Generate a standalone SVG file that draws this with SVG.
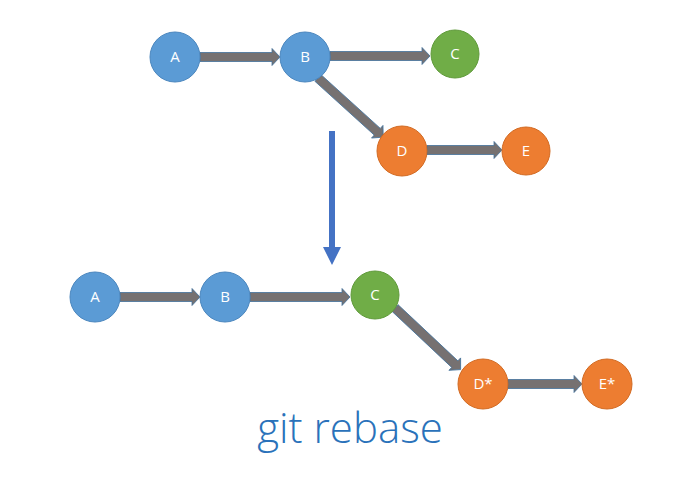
<svg xmlns="http://www.w3.org/2000/svg" width="678" height="488" viewBox="0 0 678 488">
  <style>
    .blue { fill: #5B9BD5; stroke: #4A86BE; stroke-width: 1; }
    .green { fill: #70AD47; stroke: #5F9A3A; stroke-width: 1; }
    .orange { fill: #ED7D31; stroke: #D26A22; stroke-width: 1; }
    .lbl { font-family: "Open Sans", "Noto Sans", "Liberation Sans", sans-serif; font-size: 15px; fill: #FFFFFF; text-anchor: middle; }
    .link { fill: #767171; stroke: #41719C; stroke-width: 0.8; }
    .title { font-family: "Open Sans", "Noto Sans", "Liberation Sans", sans-serif; font-weight: 300; font-size: 42px; fill: #2A72BA; text-anchor: middle; }
  </style>

  <g id="connectors">
    <!-- top history -->
    <g transform="translate(200,57)"><polygon class="link" points="0,-4.5 72,-4.5 72,-8.5 80,0 72,8.5 72,4.5 0,4.5"/></g>
    <g transform="translate(330,56)"><polygon class="link" points="0,-4.5 92,-4.5 92,-8.5 100,0 92,8.5 92,4.5 0,4.5"/></g>
    <g transform="translate(318,78) rotate(42.2)"><polygon class="link" points="0,-4.5 80,-4.5 80,-8.5 88,0 80,8.5 80,4.5 0,4.5"/></g>
    <g transform="translate(427,150)"><polygon class="link" points="0,-4.5 67,-4.5 67,-8.5 75,0 67,8.5 67,4.5 0,4.5"/></g>
    <!-- rebased history -->
    <g transform="translate(120,297)"><polygon class="link" points="0,-4.5 72,-4.5 72,-8.5 80,0 72,8.5 72,4.5 0,4.5"/></g>
    <g transform="translate(250,297)"><polygon class="link" points="0,-4.5 92,-4.5 92,-8.5 100,0 92,8.5 92,4.5 0,4.5"/></g>
    <g transform="translate(395,308) rotate(43.2)"><polygon class="link" points="0,-4.5 82,-4.5 82,-8.5 90,0 82,8.5 82,4.5 0,4.5"/></g>
    <g transform="translate(508,384)"><polygon class="link" points="0,-4.5 66,-4.5 66,-8.5 74,0 66,8.5 66,4.5 0,4.5"/></g>
    <!-- transition arrow -->
    <polygon points="329,131 335,131 335,247 341,247 332,265 323,247 329,247" fill="#4472C4"/>
  </g>

  <g id="top-A"><circle class="blue" cx="175" cy="57" r="25"/><text class="lbl" x="175" y="62">A</text></g>
  <g id="top-B"><circle class="blue" cx="305" cy="57" r="25"/><text class="lbl" x="305" y="62">B</text></g>
  <g id="top-C"><circle class="green" cx="455" cy="54" r="24"/><text class="lbl" x="455" y="59">C</text></g>
  <g id="top-D"><circle class="orange" cx="402" cy="151" r="25"/><text class="lbl" x="402" y="156">D</text></g>
  <g id="top-E"><circle class="orange" cx="526" cy="151" r="24"/><text class="lbl" x="526" y="156">E</text></g>

  <g id="bottom-A"><circle class="blue" cx="95" cy="297" r="25"/><text class="lbl" x="95" y="302">A</text></g>
  <g id="bottom-B"><circle class="blue" cx="225" cy="297" r="25"/><text class="lbl" x="225" y="302">B</text></g>
  <g id="bottom-C"><circle class="green" cx="375" cy="295" r="24"/><text class="lbl" x="375" y="300">C</text></g>
  <g id="bottom-D-star"><circle class="orange" cx="483" cy="384" r="25"/><text class="lbl" x="483" y="389">D*</text></g>
  <g id="bottom-E-star"><circle class="orange" cx="607" cy="384" r="25"/><text class="lbl" x="607" y="389">E*</text></g>

  <text class="title" x="350" y="443">git rebase</text>
</svg>
